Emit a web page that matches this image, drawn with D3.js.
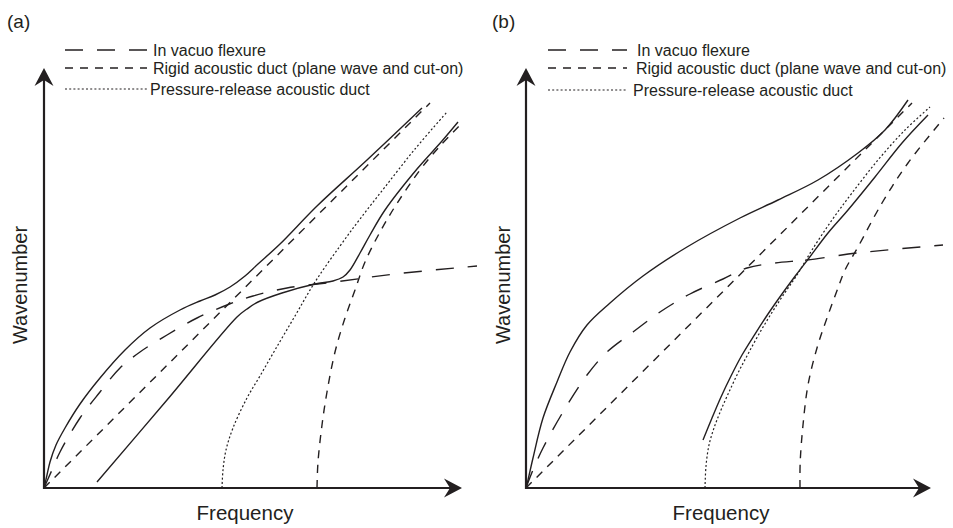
<!DOCTYPE html>
<html>
<head>
<meta charset="utf-8">
<script src="https://cdn.jsdelivr.net/npm/d3@7"></script>
<style>
  body { margin: 0; background: #fff; }
  svg { display: block; }
  text { font-family: "Liberation Sans", Arial, Helvetica, sans-serif; fill: #231f20; }
</style>
</head>
<body>
<svg id="svg"></svg>
<script>
// frequency / wavenumber pairs, arbitrary units

// panel (a)
const upperA = [[0,0],[0.75,3.25],[1.5,6.5],[3,10.75],[5.25,15],[9,21],[14,27.5],[20.25,34.5],[26.5,40],[34,44.5],[39,46.75],[42.75,48.25],[46.5,50.25],[50.25,53],[53.5,56],[59,61],[68.25,70.5],[80.75,82],[94.5,95]];
const lowerA = [[13.25,1.5],[30.75,22],[48.25,42.75],[50.75,44.75],[53.5,46.5],[59.5,48.75],[67.75,51],[72.25,51.75],[74.75,52.75],[76.5,54.5],[79,58.75],[81.5,63.25],[85.25,69.5],[93.25,79.75],[99.5,86.75],[103.5,91.5]];
const flexureA = [[0,0],[2,4.5],[4,9],[9,17.5],[14,24],[19,30],[24,34],[30.75,38.25],[38.25,42.5],[45.75,45.75],[52.25,48],[60.75,50],[72.75,51.5],[87.75,53.5],[108.25,55.5]];
const planeA = [[0,0],[96.5,96.25]];
const cutOnA = [[68.25,0],[68.5,6.5],[69.5,15.75],[70.75,24],[72.75,34],[75.25,42.5],[77.75,49.5],[80.25,56.5],[84,64],[88,70.75],[94,79.5],[99,85.5],[104.25,91]];
const releaseA = [[44.5,0],[44.75,4.5],[45.5,9.5],[47.25,15],[50.75,22.5],[54,28],[57.75,34.5],[62.75,43],[67.75,51.5],[74,60.5],[79,67.25],[85.25,75.25],[92.75,84.75],[100.75,94]];

// panel (b)
const upperB = [[0,0],[0.5,2],[1.75,7.5],[4.25,17.5],[7.75,26.5],[11,34],[15.25,40.75],[21,46.25],[29.25,53],[40.25,60.25],[53.5,67.5],[63,72],[73,77],[83,83.75],[89.75,89.5],[95.5,97]];
const lowerB = [[44.25,12],[46.5,17.5],[48.75,22.75],[51.25,28],[54,33.25],[57.25,38.5],[60.5,43.5],[64,48.5],[67.5,53.25],[70.75,57.5],[75.5,63.75],[80.5,69.5],[87.25,77.75],[94,86.25],[100.5,93.25]];
const flexureB = [[0,0],[1.75,4.5],[4.25,10],[9.25,19],[15.25,28.25],[20.25,34],[26.75,39],[33.5,44],[41,48.5],[49.25,52.25],[55.25,55],[62.25,56.25],[70.25,57],[82.75,58.75],[104.25,60.75]];
const planeB = [[0,0],[96.5,96.25]];
const cutOnB = [[68.5,0],[68.55,6.5],[69.25,15.75],[70.5,25.75],[72.75,35],[75.25,42.5],[78,50],[79.75,54.5],[83,60.25],[89,71.25],[95.5,81.25],[104.5,92.5]];
const releaseB = [[44.75,0],[45,5.5],[45.75,10.75],[47,15],[48.75,19.5],[50.75,24],[53,28.75],[55.5,33.5],[58.25,38.5],[61.25,43.5],[64.5,48.5],[67.75,53.25],[71.5,59.5],[76.5,67],[81.5,73.75],[88,82],[94.75,89.5],[101,95.25]];

const legendLabels = ['In vacuo flexure', 'Rigid acoustic duct (plane wave and cut-on)', 'Pressure-release acoustic duct'];

const ink = '#231f20';
const styles = {
  solid:   { dash: null,    width: 1.4 },
  flexure: { dash: '18,14', width: 1.4 },
  rigid:   { dash: '8,7',   width: 1.4 },
  release: { dash: '2,2.2', width: 1.2 }
};

const panels = [
  { label: '(a)', ox: 44, xEnd: 104.5, labelX: 7, ylabX: 27, xlabX: 245,
    legX: [65, 147], legTextX: [153, 153, 150], legY: [50, 68, 89],
    curves: [[upperA,'solid'],[lowerA,'solid'],[flexureA,'flexure'],[planeA,'rigid'],[cutOnA,'rigid'],[releaseA,'release']] },
  { label: '(b)', ox: 526, xEnd: 101.25, labelX: 492, ylabX: 510, xlabX: 721,
    legX: [548, 627], legTextX: [637, 636, 633], legY: [50, 68, 90],
    curves: [[upperB,'solid'],[lowerB,'solid'],[flexureB,'flexure'],[planeB,'rigid'],[cutOnB,'rigid'],[releaseB,'release']] }
];

const width = 953;
const height = 528;
const originY = 488;
const yEnd = 105;

const svg = d3.select('#svg')
  .attr('width', width)
  .attr('height', height);

// arrow head pointing right, tip at 0,0
const arrowPath = 'M0,0 L-18,-9.5 L-12,0 L-18,9.5 Z';

panels.forEach(p => {
  const x = d3.scaleLinear().domain([0, 100]).range([p.ox, p.ox + 400]);
  const y = d3.scaleLinear().domain([0, 100]).range([originY, originY - 400]);

  const g = svg.append('g');

  const line = d3.line()
    .x(d => x(d[0]))
    .y(d => y(d[1]))
    .curve(d3.curveCatmullRom.alpha(0.5));

  // CURVES
  p.curves.forEach(([data, key]) => {
    g.append('path')
      .attr('d', line(data))
      .attr('fill', 'none')
      .attr('stroke', ink)
      .attr('stroke-width', styles[key].width)
      .attr('stroke-dasharray', styles[key].dash);
  });

  // AXES
  g.append('line')
    .attr('x1', x(0)).attr('y1', y(0))
    .attr('x2', x(p.xEnd) - 12).attr('y2', y(0))
    .attr('stroke', ink).attr('stroke-width', 2.2);
  g.append('line')
    .attr('x1', x(0)).attr('y1', y(0) + 1)
    .attr('x2', x(0)).attr('y2', y(yEnd) + 12)
    .attr('stroke', ink).attr('stroke-width', 2.2);
  g.append('path')
    .attr('d', arrowPath)
    .attr('fill', ink)
    .attr('transform', `translate(${x(p.xEnd)},${y(0)})`);
  g.append('path')
    .attr('d', arrowPath)
    .attr('fill', ink)
    .attr('transform', `translate(${x(0)},${y(yEnd)}) rotate(-90)`);

  // AXIS LABELS
  g.append('text')
    .attr('x', p.xlabX)
    .attr('y', 520)
    .attr('text-anchor', 'middle')
    .attr('font-size', '20.5px')
    .text('Frequency');
  g.append('text')
    .attr('transform', `translate(${p.ylabX},285) rotate(-90)`)
    .attr('text-anchor', 'middle')
    .attr('font-size', '20px')
    .text('Wavenumber');

  // PANEL LABEL
  g.append('text')
    .attr('x', p.labelX)
    .attr('y', 28)
    .attr('font-size', '19px')
    .text(p.label);

  // LEGEND
  ['flexure', 'rigid', 'release'].forEach((key, i) => {
    g.append('line')
      .attr('x1', p.legX[0]).attr('x2', p.legX[1])
      .attr('y1', p.legY[i]).attr('y2', p.legY[i])
      .attr('stroke', ink)
      .attr('stroke-width', styles[key].width)
      .attr('stroke-dasharray', styles[key].dash);
    g.append('text')
      .attr('x', p.legTextX[i])
      .attr('y', p.legY[i])
      .attr('dy', '0.35em')
      .attr('font-size', '16px')
      .text(legendLabels[i]);
  });
});
</script>
</body>
</html>
